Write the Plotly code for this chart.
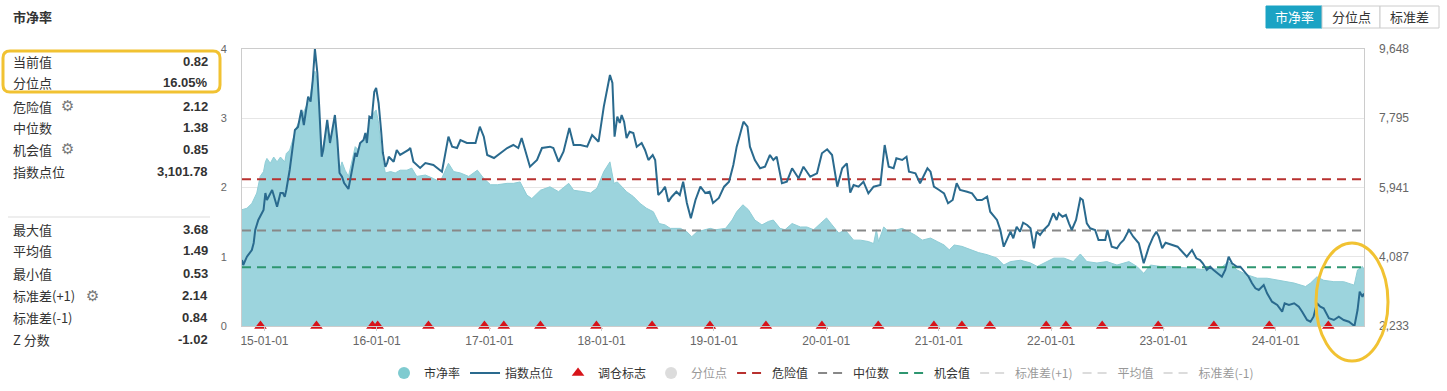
import plotly.graph_objects as go

W, H = 1447, 391

# ---------------- data ----------------
pb_dates = [
    "2014-10-20", "2014-11-05", "2014-11-21", "2014-12-07", "2014-12-18", "2014-12-29",
    "2015-01-04", "2015-01-09", "2015-01-20", "2015-01-31", "2015-02-11", "2015-02-22",
    "2015-03-08", "2015-03-13", "2015-03-24", "2015-04-05", "2015-04-16", "2015-05-01",
    "2015-05-18", "2015-05-29", "2015-06-07", "2015-06-14", "2015-06-22", "2015-06-28",
    "2015-07-06", "2015-07-24", "2015-08-02", "2015-08-18", "2015-08-26", "2015-09-02",
    "2015-09-10", "2015-09-20", "2015-10-01", "2015-10-12", "2015-10-23", "2015-11-03",
    "2015-11-14", "2015-11-30", "2015-12-11", "2015-12-21", "2015-12-30", "2016-01-07",
    "2016-01-18", "2016-01-29", "2016-02-15", "2016-03-01", "2016-03-17", "2016-04-08",
    "2016-04-24", "2016-05-10", "2016-06-07", "2016-07-03", "2016-07-25", "2016-08-21",
    "2016-09-07", "2016-09-29", "2016-10-26", "2016-11-23", "2016-12-14", "2017-01-05",
    "2017-01-27", "2017-02-28", "2017-03-20", "2017-04-11", "2017-05-03", "2017-05-19",
    "2017-06-16", "2017-07-17", "2017-08-14", "2017-09-16", "2017-10-02", "2017-11-04",
    "2017-11-26", "2017-12-17", "2018-01-08", "2018-01-28", "2018-02-10", "2018-02-21",
    "2018-03-07", "2018-03-23", "2018-04-14", "2018-05-06", "2018-05-27", "2018-06-18",
    "2018-07-07", "2018-07-26", "2018-08-12", "2018-09-14", "2018-10-05", "2018-10-21",
    "2018-11-07", "2018-11-29", "2018-12-20", "2019-01-06", "2019-02-08", "2019-03-01",
    "2019-03-16", "2019-04-05", "2019-04-23", "2019-05-14", "2019-06-06", "2019-06-27",
    "2019-07-13", "2019-08-04", "2019-08-20", "2019-09-12", "2019-10-09", "2019-10-30",
    "2019-11-21", "2019-12-13", "2020-01-02", "2020-01-20", "2020-02-11", "2020-03-02",
    "2020-03-30", "2020-04-21", "2020-05-17", "2020-06-03", "2020-06-12", "2020-06-19",
    "2020-07-06", "2020-07-22", "2020-08-13", "2020-09-04", "2020-09-26", "2020-10-17",
    "2020-11-08", "2020-12-05", "2020-12-27", "2021-01-18", "2021-02-04", "2021-02-20",
    "2021-03-17", "2021-04-13", "2021-05-10", "2021-06-07", "2021-07-09", "2021-07-31",
    "2021-08-22", "2021-09-24", "2021-10-26", "2021-11-17", "2021-12-20", "2022-01-10",
    "2022-02-12", "2022-03-14", "2022-04-06", "2022-04-27", "2022-05-30", "2022-07-01",
    "2022-08-03", "2022-09-11", "2022-10-07", "2022-10-29", "2022-11-20", "2022-12-22",
    "2023-01-24", "2023-02-26", "2023-04-09", "2023-05-22", "2023-07-04", "2023-08-01",
    "2023-08-28", "2023-09-30", "2023-11-02", "2023-12-04", "2024-01-17", "2024-03-01",
    "2024-04-07", "2024-04-23", "2024-05-14", "2024-06-05", "2024-07-08", "2024-08-09",
    "2024-09-12", "2024-09-23", "2024-10-09", "2024-10-14",
]
pb_values = [
    1.68, 1.70, 1.77, 1.92, 2.16, 2.23,
    2.37, 2.42, 2.35, 2.44, 2.37, 2.44,
    2.37, 2.49, 2.54, 2.73, 2.88, 3.02,
    3.17, 3.29, 3.55, 3.68, 3.55, 3.12,
    2.49, 2.90, 2.61, 2.97, 2.61, 2.25,
    2.37, 2.25, 2.16, 2.37, 2.59, 2.54,
    2.66, 2.78, 2.97, 3.07, 3.12, 2.93,
    2.44, 2.21, 2.23, 2.21, 2.25, 2.25,
    2.28, 2.16, 2.18, 2.13, 2.08, 2.35,
    2.23, 2.21, 2.16, 2.25, 2.13, 2.04,
    2.04, 2.06, 2.06, 2.08, 1.89, 1.84,
    1.96, 2.01, 1.94, 2.06, 1.96, 1.94,
    1.92, 1.99, 2.23, 2.37, 2.06, 2.08,
    2.01, 1.94, 1.87, 1.77, 1.70, 1.65,
    1.48, 1.46, 1.41, 1.41, 1.36, 1.29,
    1.36, 1.39, 1.41, 1.39, 1.41, 1.53,
    1.65, 1.75, 1.68, 1.53, 1.46, 1.51,
    1.53, 1.41, 1.39, 1.48, 1.43, 1.43,
    1.39, 1.48, 1.56, 1.46, 1.34, 1.39,
    1.24, 1.24, 1.22, 1.19, 1.39, 1.22,
    1.43, 1.36, 1.39, 1.41, 1.36, 1.31,
    1.24, 1.27, 1.22, 1.17, 1.10, 1.17,
    1.15, 1.10, 1.06, 1.03, 0.98, 0.88,
    0.93, 0.95, 0.91, 0.86, 0.93, 0.98,
    0.98, 0.93, 1.04, 0.93, 0.91, 0.93,
    0.88, 0.93, 0.86, 0.76, 0.88, 0.86,
    0.86, 0.85, 0.83, 0.81, 0.83, 0.93,
    0.81, 0.74, 0.69, 0.69, 0.65, 0.62,
    0.57, 0.62, 0.71, 0.66, 0.64, 0.64,
    0.59, 0.81, 0.86, 0.82,
]

idx_dates = [
    "2014-10-20", "2014-10-24", "2014-11-05", "2014-11-21", "2014-11-27", "2014-12-02",
    "2014-12-12", "2014-12-24", "2014-12-29", "2015-01-04", "2015-01-09", "2015-01-26",
    "2015-02-06", "2015-02-11", "2015-02-22", "2015-03-02", "2015-03-08", "2015-03-13",
    "2015-03-24", "2015-04-10", "2015-04-20", "2015-05-01", "2015-05-09", "2015-05-23",
    "2015-05-31", "2015-06-07", "2015-06-14", "2015-06-22", "2015-06-28", "2015-07-06",
    "2015-07-11", "2015-07-24", "2015-08-02", "2015-08-18", "2015-08-26", "2015-09-02",
    "2015-09-10", "2015-09-17", "2015-10-01", "2015-10-12", "2015-10-23", "2015-10-28",
    "2015-11-08", "2015-11-19", "2015-11-25", "2015-11-30", "2015-12-08", "2015-12-16",
    "2015-12-24", "2015-12-30", "2016-01-07", "2016-01-15", "2016-01-21", "2016-01-29",
    "2016-02-04", "2016-02-09", "2016-02-25", "2016-03-06", "2016-03-17", "2016-04-13",
    "2016-04-19", "2016-04-29", "2016-05-21", "2016-06-07", "2016-07-03", "2016-07-31",
    "2016-08-21", "2016-09-02", "2016-09-18", "2016-09-29", "2016-10-20", "2016-11-17",
    "2016-12-01", "2016-12-14", "2016-12-25", "2017-01-16", "2017-02-07", "2017-02-28",
    "2017-03-20", "2017-04-05", "2017-04-16", "2017-04-27", "2017-05-13", "2017-06-05",
    "2017-06-21", "2017-07-17", "2017-07-28", "2017-08-14", "2017-08-30", "2017-09-18",
    "2017-10-02", "2017-10-24", "2017-11-15", "2017-12-01", "2017-12-22", "2018-01-08",
    "2018-01-28", "2018-02-05", "2018-02-12", "2018-02-21", "2018-03-01", "2018-03-07",
    "2018-03-15", "2018-03-23", "2018-04-02", "2018-04-14", "2018-04-25", "2018-05-11",
    "2018-05-22", "2018-06-02", "2018-06-16", "2018-06-24", "2018-07-04", "2018-07-15",
    "2018-07-26", "2018-08-06", "2018-08-17", "2018-09-01", "2018-09-12", "2018-09-23",
    "2018-10-05", "2018-10-18", "2018-11-02", "2018-11-18", "2018-12-04", "2018-12-18",
    "2018-12-29", "2019-01-17", "2019-02-03", "2019-02-19", "2019-03-05", "2019-03-16",
    "2019-03-27", "2019-04-07", "2019-04-20", "2019-04-28", "2019-05-14", "2019-05-31",
    "2019-06-16", "2019-07-02", "2019-07-13", "2019-07-24", "2019-08-10", "2019-08-26",
    "2019-09-12", "2019-10-03", "2019-10-19", "2019-11-10", "2019-12-02", "2019-12-18",
    "2020-01-04", "2020-01-20", "2020-02-06", "2020-02-22", "2020-03-08", "2020-03-19",
    "2020-03-30", "2020-04-15", "2020-05-01", "2020-05-17", "2020-06-03", "2020-06-25",
    "2020-07-09", "2020-07-22", "2020-08-07", "2020-08-16", "2020-09-04", "2020-09-18",
    "2020-09-26", "2020-10-17", "2020-11-01", "2020-11-12", "2020-11-25", "2020-12-05",
    "2020-12-16", "2021-01-02", "2021-01-18", "2021-01-31", "2021-02-15", "2021-02-28",
    "2021-03-11", "2021-04-03", "2021-04-19", "2021-05-05", "2021-05-21", "2021-06-07",
    "2021-06-17", "2021-07-09", "2021-07-20", "2021-07-31", "2021-08-11", "2021-08-22",
    "2021-08-31", "2021-09-11", "2021-09-22", "2021-10-02", "2021-10-15", "2021-10-26",
    "2021-11-06", "2021-11-15", "2021-11-26", "2021-12-08", "2021-12-24", "2022-01-08",
    "2022-01-19", "2022-01-26", "2022-02-07", "2022-02-18", "2022-02-28", "2022-03-09",
    "2022-03-23", "2022-04-06", "2022-04-14", "2022-04-27", "2022-05-08", "2022-05-24",
    "2022-06-04", "2022-06-26", "2022-07-03", "2022-07-17", "2022-08-03", "2022-08-14",
    "2022-08-25", "2022-09-11", "2022-09-25", "2022-10-13", "2022-10-29", "2022-11-15",
    "2022-11-29", "2022-12-09", "2022-12-17", "2022-12-28", "2023-01-08", "2023-01-30",
    "2023-02-16", "2023-02-26", "2023-03-18", "2023-04-04", "2023-04-18", "2023-04-30",
    "2023-05-09", "2023-05-22", "2023-06-02", "2023-06-13", "2023-06-26", "2023-07-10",
    "2023-07-21", "2023-08-01", "2023-08-12", "2023-08-28", "2023-09-08", "2023-09-25",
    "2023-10-05", "2023-10-16", "2023-10-27", "2023-11-07", "2023-11-23", "2023-12-04",
    "2023-12-20", "2024-01-06", "2024-01-22", "2024-01-30", "2024-02-13", "2024-03-01",
    "2024-03-16", "2024-03-27", "2024-04-12", "2024-04-23", "2024-05-03", "2024-05-14",
    "2024-05-25", "2024-06-05", "2024-06-22", "2024-07-08", "2024-07-24", "2024-08-09",
    "2024-08-26", "2024-09-13", "2024-09-23", "2024-09-30", "2024-10-09", "2024-10-14",
]
idx_values = [
    4000, 3866, 4088, 4268, 4455, 4803,
    5071, 5258, 5338, 5793, 5606, 5874,
    5606, 5427, 5793, 5793, 5694, 5874,
    6409, 7480, 7560, 8015, 7614, 8371,
    8238, 8818, 9648, 9006, 8104, 6765,
    6945, 7748, 7132, 7881, 7212, 6329,
    6230, 6061, 5900, 6409, 6864, 6765,
    7132, 7212, 7400, 7132, 7836, 7801,
    8505, 8604, 8203, 7480, 6864, 6497,
    6597, 6765, 6631, 6945, 6811, 6945,
    6998, 6631, 6463, 6597, 6543, 6364,
    7301, 7033, 6998, 7212, 7132, 7132,
    7568, 7301, 6811, 6730, 6864, 6998,
    7078, 6998, 7266, 6945, 6497, 6677,
    6998, 7033, 6998, 6631, 6899, 7533,
    7078, 7078, 7033, 7346, 7167, 8104,
    8952, 8738, 7301, 7836, 7667, 7881,
    7702, 7266, 7434, 7400, 7033, 7132,
    6945, 6677, 6811, 6677, 5740, 5828,
    5962, 5561, 5694, 5828, 5740, 6096,
    5526, 5116, 5606, 5962, 5793, 5828,
    5526, 5660, 5962, 6096, 6543, 7033,
    7400, 7702, 7568, 7033, 6677, 6455,
    6497, 6811, 6677, 6765, 6053, 6096,
    6455, 6187, 6497, 6230, 6321, 6856,
    6963, 6811, 5962, 6455, 6588, 5801,
    6008, 5962, 6096, 5785, 5962, 6008,
    7078, 6497, 6455, 6722, 6677, 6765,
    6364, 6321, 6053, 6230, 6455, 6364,
    5962, 5874, 5785, 5518, 5606, 6053,
    5874, 5828, 5785, 5606, 5606, 5694,
    5293, 5071, 4803, 4356, 4535, 4757,
    4581, 4891, 4757, 4998, 4937, 4848,
    4313, 4757, 4669, 4803, 4937, 5250,
    5071, 5250, 5159, 5204, 4982, 4803,
    5071, 5652, 5606, 4982, 4848, 4803,
    4535, 4535, 4803, 4356, 4313, 4447,
    4535, 4803, 4624, 4447, 3911, 4356,
    4624, 4757, 4624, 4313, 4463, 4401,
    4356, 4268, 4088, 4268, 4045, 4000,
    3911, 3732, 3820, 3732, 3644, 3553,
    3732, 4088, 3911, 3820, 3820, 3644,
    3553, 3376, 3242, 3197, 3331, 3108,
    2884, 2795, 2616, 2841, 2795, 2841,
    2750, 2616, 2394, 2348, 2482, 2841,
    2750, 2707, 2439, 2394, 2482, 2394,
    2348, 2233, 2661, 3151, 3017, 3102,
]

rebalance_dates = [
    "2014-12-19", "2015-06-19", "2015-12-18", "2016-01-04", "2016-06-17", "2016-12-16",
    "2017-02-17", "2017-06-16", "2017-12-15", "2018-06-14", "2018-12-19", "2019-06-19",
    "2019-12-18", "2020-06-18", "2020-12-16", "2021-03-17", "2021-06-16", "2021-12-16",
    "2022-02-18", "2022-06-16", "2022-12-15", "2023-06-14", "2023-12-11", "2024-06-20",
]

danger_value = 2.12
median_value = 1.38
chance_value = 0.85

x_start, x_end = "2014-10-20", "2024-10-14"
x_tickvals = ["2015-01-01", "2016-01-01", "2017-01-01", "2018-01-01", "2019-01-01",
              "2020-01-01", "2021-01-01", "2022-01-01", "2023-01-01", "2024-01-01"]
x_ticktext = ["15-01-01", "16-01-01", "17-01-01", "18-01-01", "19-01-01",
              "20-01-01", "21-01-01", "22-01-01", "23-01-01", "24-01-01"]
pb_ticks = [0, 1, 2, 3, 4]
idx_min, idx_max = 2233, 9648
idx_ticktext = ["2,233", "4,087", "5,941", "7,795", "9,648"]

stat_labels_top = ["当前值", "分位点", "危险值", "中位数", "机会值", "指数点位"]
stat_values_top = ["0.82", "16.05%", "2.12", "1.38", "0.85", "3,101.78"]
stat_labels_bot = ["最大值", "平均值", "最小值", "标准差(+1)", "标准差(-1)", "Z 分数"]
stat_values_bot = ["3.68", "1.49", "0.53", "2.14", "0.84", "-1.02"]
buttons = ["市净率", "分位点", "标准差"]

# ---------------- helpers (layout positions in pixels) ----------------
def px(x):
    return x / W

def py(y):
    return 1 - y / H

FONT = "Liberation Sans, Noto Sans CJK SC, sans-serif"
CJK = "Noto Sans CJK SC, Liberation Sans, sans-serif"

PLOT_L, PLOT_R, PLOT_T, PLOT_B = 242, 1364, 49, 326

fig = go.Figure()

# area: 市净率
fig.add_trace(go.Scatter(
    x=pb_dates, y=pb_values, mode="lines", fill="tozeroy",
    line=dict(color="#8fcdd6", width=1), fillcolor="#9cd4dd",
    showlegend=False, legendgroup="pb", hoverinfo="skip", yaxis="y"))

# dashed reference lines
dash = "9px,6px"
for name, val, col, rank in [("危险值", danger_value, "#b8312f", 5),
                             ("中位数", median_value, "#888888", 6),
                             ("机会值", chance_value, "#2e9670", 7)]:
    fig.add_trace(go.Scatter(
        x=[x_start, x_end], y=[val, val], mode="lines", name=name,
        line=dict(color=col, width=2, dash=dash), legendrank=rank,
        hoverinfo="skip", yaxis="y"))

# index line
fig.add_trace(go.Scatter(
    x=idx_dates, y=idx_values, mode="lines", name="指数点位",
    line=dict(color="#2a6a8e", width=2), legendrank=2, yaxis="y2"))

# rebalance markers
fig.add_trace(go.Scatter(
    x=rebalance_dates, y=[0] * len(rebalance_dates), mode="markers", name="调仓标志",
    marker=dict(symbol="triangle-up", size=11, color="#d7141a"),
    cliponaxis=False, legendrank=3, yaxis="y"))

# legend-only entries
fig.add_trace(go.Scatter(x=[None], y=[None], mode="markers", name="市净率",
                         marker=dict(symbol="circle", size=12, color="#7fcbd0"),
                         legendgroup="pb", legendrank=1))
fig.add_trace(go.Scatter(x=[None], y=[None], mode="markers", name="分位点",
                         marker=dict(symbol="circle", size=12, color="#bbbbbb"),
                         visible="legendonly", legendrank=4))
for name, rank in [("标准差(+1)", 8), ("平均值", 9), ("标准差(-1)", 10)]:
    fig.add_trace(go.Scatter(x=[None], y=[None], mode="lines", name=name,
                             line=dict(color="#bbbbbb", width=2, dash=dash),
                             visible="legendonly", legendrank=rank))

shapes = []
annotations = []

# title
annotations.append(dict(x=px(11), y=py(17), xref="paper", yref="paper", text="<b>市净率</b>",
                        showarrow=False, xanchor="left", yanchor="middle",
                        font=dict(family=CJK, size=13, color="#333333")))

# stats panel
top_y = [61.7, 82.7, 106, 127.7, 149.3, 171.7]
bot_y = [229.3, 251, 273.3, 295.7, 317.3, 339.3]
for labels, values, ys in [(stat_labels_top, stat_values_top, top_y),
                           (stat_labels_bot, stat_values_bot, bot_y)]:
    for lab, val, yy in zip(labels, values, ys):
        annotations.append(dict(x=px(11), y=py(yy), xref="paper", yref="paper", text=lab,
                                showarrow=False, xanchor="left", yanchor="middle",
                                font=dict(family=CJK, size=13, color="#333333")))
        annotations.append(dict(x=px(210), y=py(yy), xref="paper", yref="paper",
                                text="<b>" + val + "</b>",
                                showarrow=False, xanchor="right", yanchor="middle",
                                font=dict(family=FONT, size=13, color="#333333")))
for gx, gy in [(67, 106), (67, 149.3), (92.5, 295.7)]:
    annotations.append(dict(x=px(gx), y=py(gy), xref="paper", yref="paper", text="⚙",
                            showarrow=False, xanchor="center", yanchor="middle",
                            font=dict(family="DejaVu Sans", size=15, color="#777777")))

# separator line in stats panel
shapes.append(dict(type="line", xref="paper", yref="paper", x0=px(8), x1=px(210),
                   y0=py(217), y1=py(217), line=dict(color="#dddddd", width=1)))

# yellow rounded box around current value
def rounded_rect(x0, y0, x1, y1, r):
    X0, X1 = px(x0), px(x1)
    Y0, Y1 = py(y0), py(y1)
    rx, ry = r / W, r / H
    return (f"M {X0+rx},{Y0} L {X1-rx},{Y0} Q {X1},{Y0} {X1},{Y0-ry} "
            f"L {X1},{Y1+ry} Q {X1},{Y1} {X1-rx},{Y1} L {X0+rx},{Y1} "
            f"Q {X0},{Y1} {X0},{Y1+ry} L {X0},{Y0-ry} Q {X0},{Y0} {X0+rx},{Y0} Z")

shapes.append(dict(type="path", xref="paper", yref="paper",
                   path=rounded_rect(3, 51, 220, 92, 7),
                   line=dict(color="#f1c232", width=3)))

# yellow ellipse
shapes.append(dict(type="circle", xref="paper", yref="paper",
                   x0=px(1316), x1=px(1388), y0=py(361), y1=py(243),
                   line=dict(color="#f1c232", width=3)))

# buttons
bx = [1266, 1322, 1380, 1439]
for i, lab in enumerate(buttons):
    active = i == 0
    shapes.append(dict(type="rect", xref="paper", yref="paper",
                       x0=px(bx[i]), x1=px(bx[i + 1]), y0=py(28), y1=py(6),
                       fillcolor="#1ba3c4" if active else "#ffffff",
                       line=dict(color="#1ba3c4" if active else "#cccccc", width=1)))
    annotations.append(dict(x=px((bx[i] + bx[i + 1]) / 2), y=py(17), xref="paper", yref="paper",
                            text=lab, showarrow=False, xanchor="center", yanchor="middle",
                            font=dict(family=CJK, size=13,
                                      color="#ffffff" if active else "#333333")))

fig.update_layout(
    width=W, height=H, autosize=False, template="none",
    margin=dict(l=0, r=0, t=0, b=0, pad=0),
    paper_bgcolor="#ffffff", plot_bgcolor="#ffffff",
    font=dict(family=FONT, size=12, color="#666666"),
    showlegend=True,
    legend=dict(orientation="h", x=px(384), y=py(373), xanchor="left", yanchor="middle",
                font=dict(family=CJK, size=12, color="#333333"),
                itemwidth=30, bgcolor="rgba(0,0,0,0)", borderwidth=0,
                traceorder="normal", itemclick=False, itemdoubleclick=False),
    xaxis=dict(domain=[px(PLOT_L), px(PLOT_R)], type="date", range=[x_start, x_end],
               tickvals=x_tickvals, ticktext=x_ticktext, showgrid=False, zeroline=False,
               showline=True, linecolor="#cccccc", linewidth=1, mirror=True,
               ticks="outside", ticklen=4, tickcolor="#cccccc",
               tickfont=dict(family=FONT, size=12, color="#666666"), automargin=False),
    yaxis=dict(domain=[py(PLOT_B), py(PLOT_T)], range=[0, 4], tickvals=pb_ticks,
               showgrid=True, gridcolor="#e6e6e6", gridwidth=1, zeroline=False,
               showline=True, linecolor="#cccccc", mirror=True, ticks="",
               ticklabelstandoff=12,
               tickfont=dict(family=FONT, size=11, color="#666666"), automargin=False),
    yaxis2=dict(overlaying="y", side="right", range=[idx_min, idx_max],
                tickvals=[idx_min + k * (idx_max - idx_min) / 4 for k in range(5)],
                ticktext=idx_ticktext, showgrid=False, zeroline=False, showline=False,
                ticks="", ticklabelstandoff=14,
                tickfont=dict(family=FONT, size=12, color="#666666"), automargin=False),
    shapes=shapes, annotations=annotations,
    hovermode=False,
)

fig.write_html("out.html", config={"displayModeBar": False},
               post_script="document.body.style.margin='0';document.body.style.overflow='hidden';")
